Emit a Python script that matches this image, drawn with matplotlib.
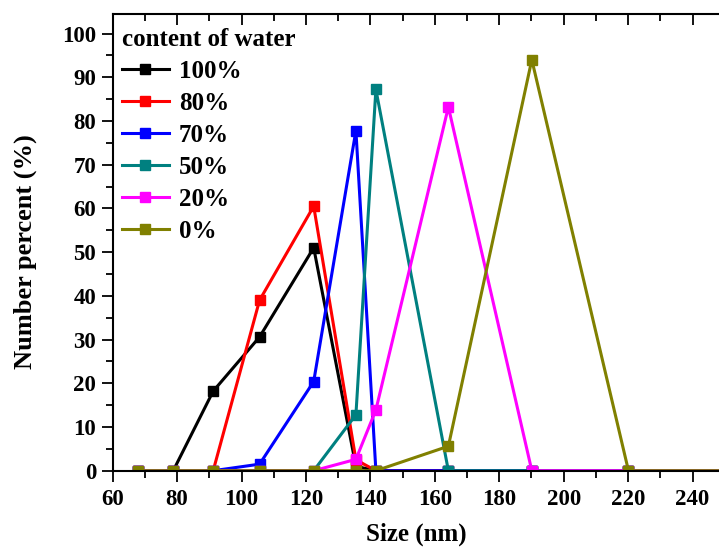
import matplotlib
matplotlib.use("Agg")
import matplotlib.pyplot as plt
from matplotlib.ticker import MultipleLocator

plt.rcParams["font.family"] = ["Liberation Serif", "DejaVu Serif"]
plt.rcParams["font.weight"] = "bold"

# shared size grid (nm); last point lies beyond the visible range
size_nm = [67.9, 78.8, 91.2, 105.6, 122.4, 135.5, 141.7, 164.2, 190.1, 220.1, 260.0]

water_100 = [0, 0, 18.2, 30.6, 51.0, 1.0, 0, 0, 0, 0, 0]
water_80 = [0, 0, 0, 39.0, 60.5, 2.5, 0, 0, 0, 0, 0]
water_70 = [0, 0, 0, 1.5, 20.4, 77.8, 0, 0, 0, 0, 0]
water_50 = [0, 0, 0, 0, 0, 12.8, 87.2, 0, 0, 0, 0]
water_20 = [0, 0, 0, 0, 0, 2.6, 13.9, 83.2, 0, 0, 0]
water_0 = [0, 0, 0, 0, 0, 0, 0, 5.6, 94.0, 0, 0]

labels = ["100%", "80%", "70%", "50%", "20%", "0%"]
colors = ["#000000", "#FF0000", "#0000FF", "#008080", "#FF00FF", "#808000"]
series = [water_100, water_80, water_70, water_50, water_20, water_0]

fig = plt.figure(figsize=(7.19, 5.49), dpi=100)
ax = fig.add_axes([0.1567, 0.1426, 0.8433, 0.8314])

for vals, col, lab in zip(series, colors, labels):
    ax.plot(size_nm, vals, color=col, linewidth=2.2, marker="s",
            markersize=7.5, label=lab)

ax.set_xlim(60, 248.2)
ax.set_ylim(0, 104.4)

ax.xaxis.set_major_locator(MultipleLocator(20))
ax.xaxis.set_minor_locator(MultipleLocator(10))
ax.yaxis.set_major_locator(MultipleLocator(10))
ax.yaxis.set_minor_locator(MultipleLocator(5))

ax.tick_params(axis="both", which="major", direction="out", length=8,
               width=1.3, labelsize=16.5, pad=4)
ax.tick_params(axis="both", which="minor", direction="out", length=5, width=1.3)
ax.tick_params(axis="x", which="both", top=True, labeltop=False)
ax.tick_params(axis="x", which="major", pad=5)

for side in ["left", "bottom", "top"]:
    ax.spines[side].set_linewidth(1.5)
ax.spines["right"].set_visible(False)

# top ticks point inward, bottom ones outward
for t in ax.xaxis.get_major_ticks() + ax.xaxis.get_minor_ticks():
    t.tick2line.set_marker(3)

ax.set_xlabel("Size (nm)", fontsize=18, fontweight="bold", labelpad=9)
ax.set_ylabel("Number percent (%)", fontsize=19, fontweight="bold")
ax.yaxis.set_label_coords(-0.125, 0.481)

leg = ax.legend(title="content of water", loc="upper left", frameon=False,
                bbox_to_anchor=(-0.008, 1.0),
                fontsize=18, title_fontproperties={"weight": "bold", "size": 18},
                handlelength=1.9, handletextpad=0.4, labelspacing=0.36,
                borderaxespad=0.35, borderpad=0.2, alignment="left")
for line in leg.get_lines():
    line.set_linewidth(2.2)

fig.savefig("out.png", dpi=100)
